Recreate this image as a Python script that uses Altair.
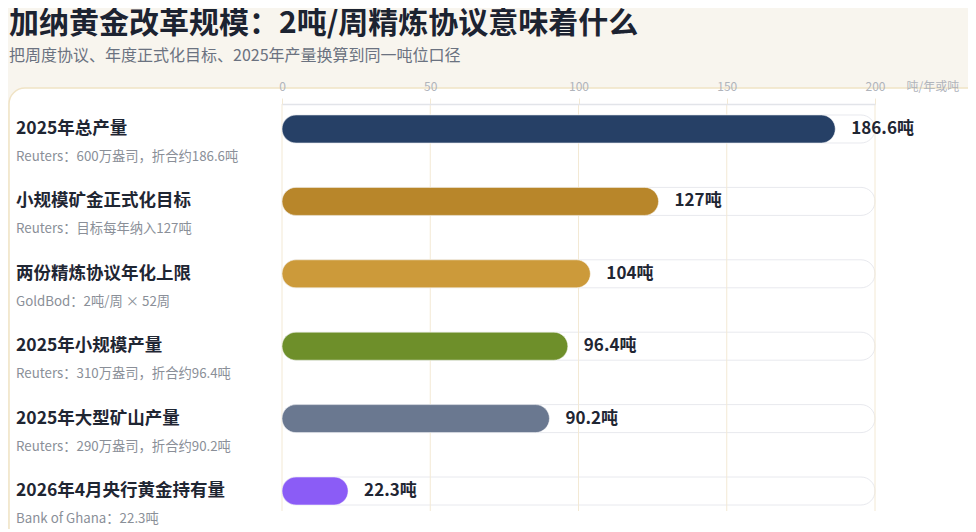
import altair as alt
import pandas as pd

# ---------------- data ----------------
labels = [
    "2025年总产量",
    "小规模矿金正式化目标",
    "两份精炼协议年化上限",
    "2025年小规模产量",
    "2025年大型矿山产量",
    "2026年4月央行黄金持有量",
]
notes = [
    "Reuters：600万盎司，折合约186.6吨",
    "Reuters：目标每年纳入127吨",
    "GoldBod：2吨/周 × 52周",
    "Reuters：310万盎司，折合约96.4吨",
    "Reuters：290万盎司，折合约90.2吨",
    "Bank of Ghana：22.3吨",
]
values = [186.6, 127, 104, 96.4, 90.2, 22.3]
value_text = ["186.6吨", "127吨", "104吨", "96.4吨", "90.2吨", "22.3吨"]
colors = ["#264066", "#b8862a", "#cc9a3a", "#6e8f2a", "#6a7890", "#8b5cf6"]
tick_values = [0, 50, 100, 150, 200]
track_max = 200
title_text = "加纳黄金改革规模：2吨/周精炼协议意味着什么"
subtitle_text = "把周度协议、年度正式化目标、2025年产量换算到同一吨位口径"
unit_text = "吨/年或吨"

df = pd.DataFrame({
    "idx": list(range(len(labels))),
    "label": labels,
    "note": notes,
    "value": values,
    "vtext": value_text,
    "start": [0] * len(labels),
    "end": [track_max] * len(labels),
})

FONT = "Noto Sans CJK SC"
W, H = 593, 407

xscale = alt.Scale(domain=[0, track_max], nice=False, zero=True, padding=0)
yscale = alt.Scale(domain=[-0.3453, 5.2762], reverse=True, nice=False, zero=False, padding=0)

x_axis = alt.Axis(
    orient="top", values=tick_values, grid=False, title=unit_text,
    domainColor="#e2e4e9", domainWidth=1.5,
    ticks=True, tickSize=6, tickColor="#f3e9d4", tickWidth=1,
    labelColor="#b0b4bb", labelFontSize=12, labelFont=FONT,
    labelBaseline="middle", labelPadding=12, labelFlush=False,
    titleX=624, titleY=-18, titleAlign="left", titleBaseline="middle",
    titleAngle=0, titleColor="#b0b4bb", titleFontSize=12, titleFont=FONT,
    titleFontWeight="normal", zindex=1,
)

def X(field):
    return alt.X(field, type="quantitative", scale=xscale, axis=x_axis)

Y = alt.Y("idx:Q", scale=yscale, axis=None)

base = alt.Chart(df)

card = alt.Chart(pd.DataFrame({"k": [0]})).mark_rect(
    fill="white", stroke="#f0e3c5", strokeWidth=1.5, cornerRadius=16
).encode(
    x=alt.value(-273), x2=alt.value(720), y=alt.value(-16), y2=alt.value(470)
)

track = base.mark_bar(
    orient="horizontal", size=28, cornerRadius=14,
    fill="white", stroke="#e8e9ee", strokeWidth=1
).encode(x=X("start"), x2="end:Q", y=Y)

grid = alt.Chart(pd.DataFrame({"t": tick_values})).mark_rule(
    color="#f3e9d4", strokeWidth=1
).encode(x=X("t"), y=alt.value(0), y2=alt.value(H))

bars = base.mark_bar(
    orient="horizontal", size=28, cornerRadius=14,
    stroke="#ffffff", strokeOpacity=0.5, strokeWidth=1
).encode(
    x=X("start"), x2="value:Q", y=Y,
    color=alt.Color("label:N", scale=alt.Scale(domain=labels, range=colors), legend=None),
)

vlabels = base.mark_text(
    align="left", baseline="middle", dx=16, font=FONT, fontSize=17,
    fontWeight="bold", color="#1f2633"
).encode(x=X("value"), y=Y, text="vtext:N")

names = base.mark_text(
    align="left", baseline="middle", font=FONT, fontSize=17.5,
    fontWeight="bold", color="#1f2633"
).encode(x=alt.value(-266), y=Y, text="label:N")

subnotes = base.mark_text(
    align="left", baseline="middle", dy=28, font=FONT, fontSize=13.3,
    color="#8a8f98"
).encode(x=alt.value(-266), y=Y, text="note:N")

ttl = alt.Chart(pd.DataFrame({"t": [title_text]})).mark_text(
    align="left", baseline="middle", font=FONT, fontSize=30,
    fontWeight="bold", color="#1c2331"
).encode(x=alt.value(-273), y=alt.value(-80), text="t:N")

sub = alt.Chart(pd.DataFrame({"t": [subtitle_text]})).mark_text(
    align="left", baseline="middle", font=FONT, fontSize=16,
    color="#6b7280"
).encode(x=alt.value(-273), y=alt.value(-48), text="t:N")

chart = alt.layer(card, track, grid, bars, vlabels, names, subnotes, ttl, sub).properties(
    width=W, height=H,
    padding={"left": 274, "top": 96, "right": 93, "bottom": 18},
    autosize=alt.AutoSizeParams(type="none"),
    background="#f8f5ee",
).configure_view(strokeWidth=0)

chart.save("out.html", embed_options={"renderer": "svg", "actions": False})
